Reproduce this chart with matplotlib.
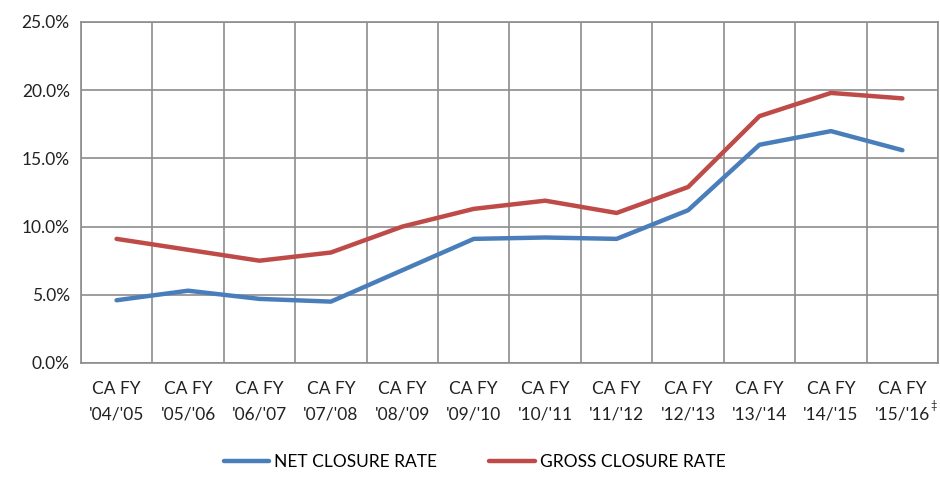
import numpy as np
import matplotlib
matplotlib.use('Agg')
import matplotlib.pyplot as plt
from matplotlib.ticker import FuncFormatter, FixedLocator

plt.rcParams['font.family'] = ['Lato', 'DejaVu Sans']

years = ["'04/'05", "'05/'06", "'06/'07", "'07/'08", "'08/'09", "'09/'10",
         "'10/'11", "'11/'12", "'12/'13", "'13/'14", "'14/'15", "'15/'16"]
net_rate = [4.6, 5.3, 4.7, 4.5, 6.8, 9.1, 9.2, 9.1, 11.2, 16.0, 17.0, 15.6]
gross_rate = [9.1, 8.3, 7.5, 8.1, 10.0, 11.3, 11.9, 11.0, 12.9, 18.1, 19.8, 19.4]

blue = '#4A7EBB'
red = '#BE4B48'
grid_col = '#8C8C8C'

fig = plt.figure(figsize=(9.4, 4.91), dpi=100)
ax = fig.add_axes([0.086, 0.2607, 0.912, 0.6945])

x = np.arange(len(years))
ax.plot(x, net_rate, color=blue, lw=3.2, label='NET CLOSURE RATE', solid_capstyle='round')
ax.plot(x, gross_rate, color=red, lw=3.2, label='GROSS CLOSURE RATE', solid_capstyle='round')

ax.set_xlim(-0.5, len(years) - 0.5)
ax.set_ylim(0, 25)
ax.set_yticks(np.arange(0, 26, 5))
ax.yaxis.set_major_formatter(FuncFormatter(lambda v, p: '%.1f%%' % v))

ax.set_xticks(x)
ax.set_xticklabels(['CA FY\n' + y for y in years], linespacing=1.75)
ax.xaxis.set_minor_locator(FixedLocator(np.arange(-0.5, len(years), 1.0)))

ax.grid(True, which='major', axis='y', color=grid_col, lw=1.2)
ax.grid(True, which='minor', axis='x', color=grid_col, lw=1.2)
ax.set_axisbelow(True)
ax.tick_params(which='both', length=0)
ax.tick_params(axis='x', pad=13, labelsize=12.5, colors='#222222')
ax.tick_params(axis='y', pad=8, labelsize=12.5, colors='#222222')
for s in ax.spines.values():
    s.set_color(grid_col)
    s.set_linewidth(1.2)

# footnote mark on last label
ax.text(len(years) - 1 + 0.44, -0.125, '\u2021', transform=ax.get_xaxis_transform(),
        fontsize=8, ha='center', va='center', color='#222222')

leg = fig.legend(loc='lower center', bbox_to_anchor=(0.505, 0.01), ncol=2, frameon=False,
                 fontsize=12.5, handlelength=2.6, columnspacing=3.0, handletextpad=0.3)

fig.savefig('out.png', dpi=100)
